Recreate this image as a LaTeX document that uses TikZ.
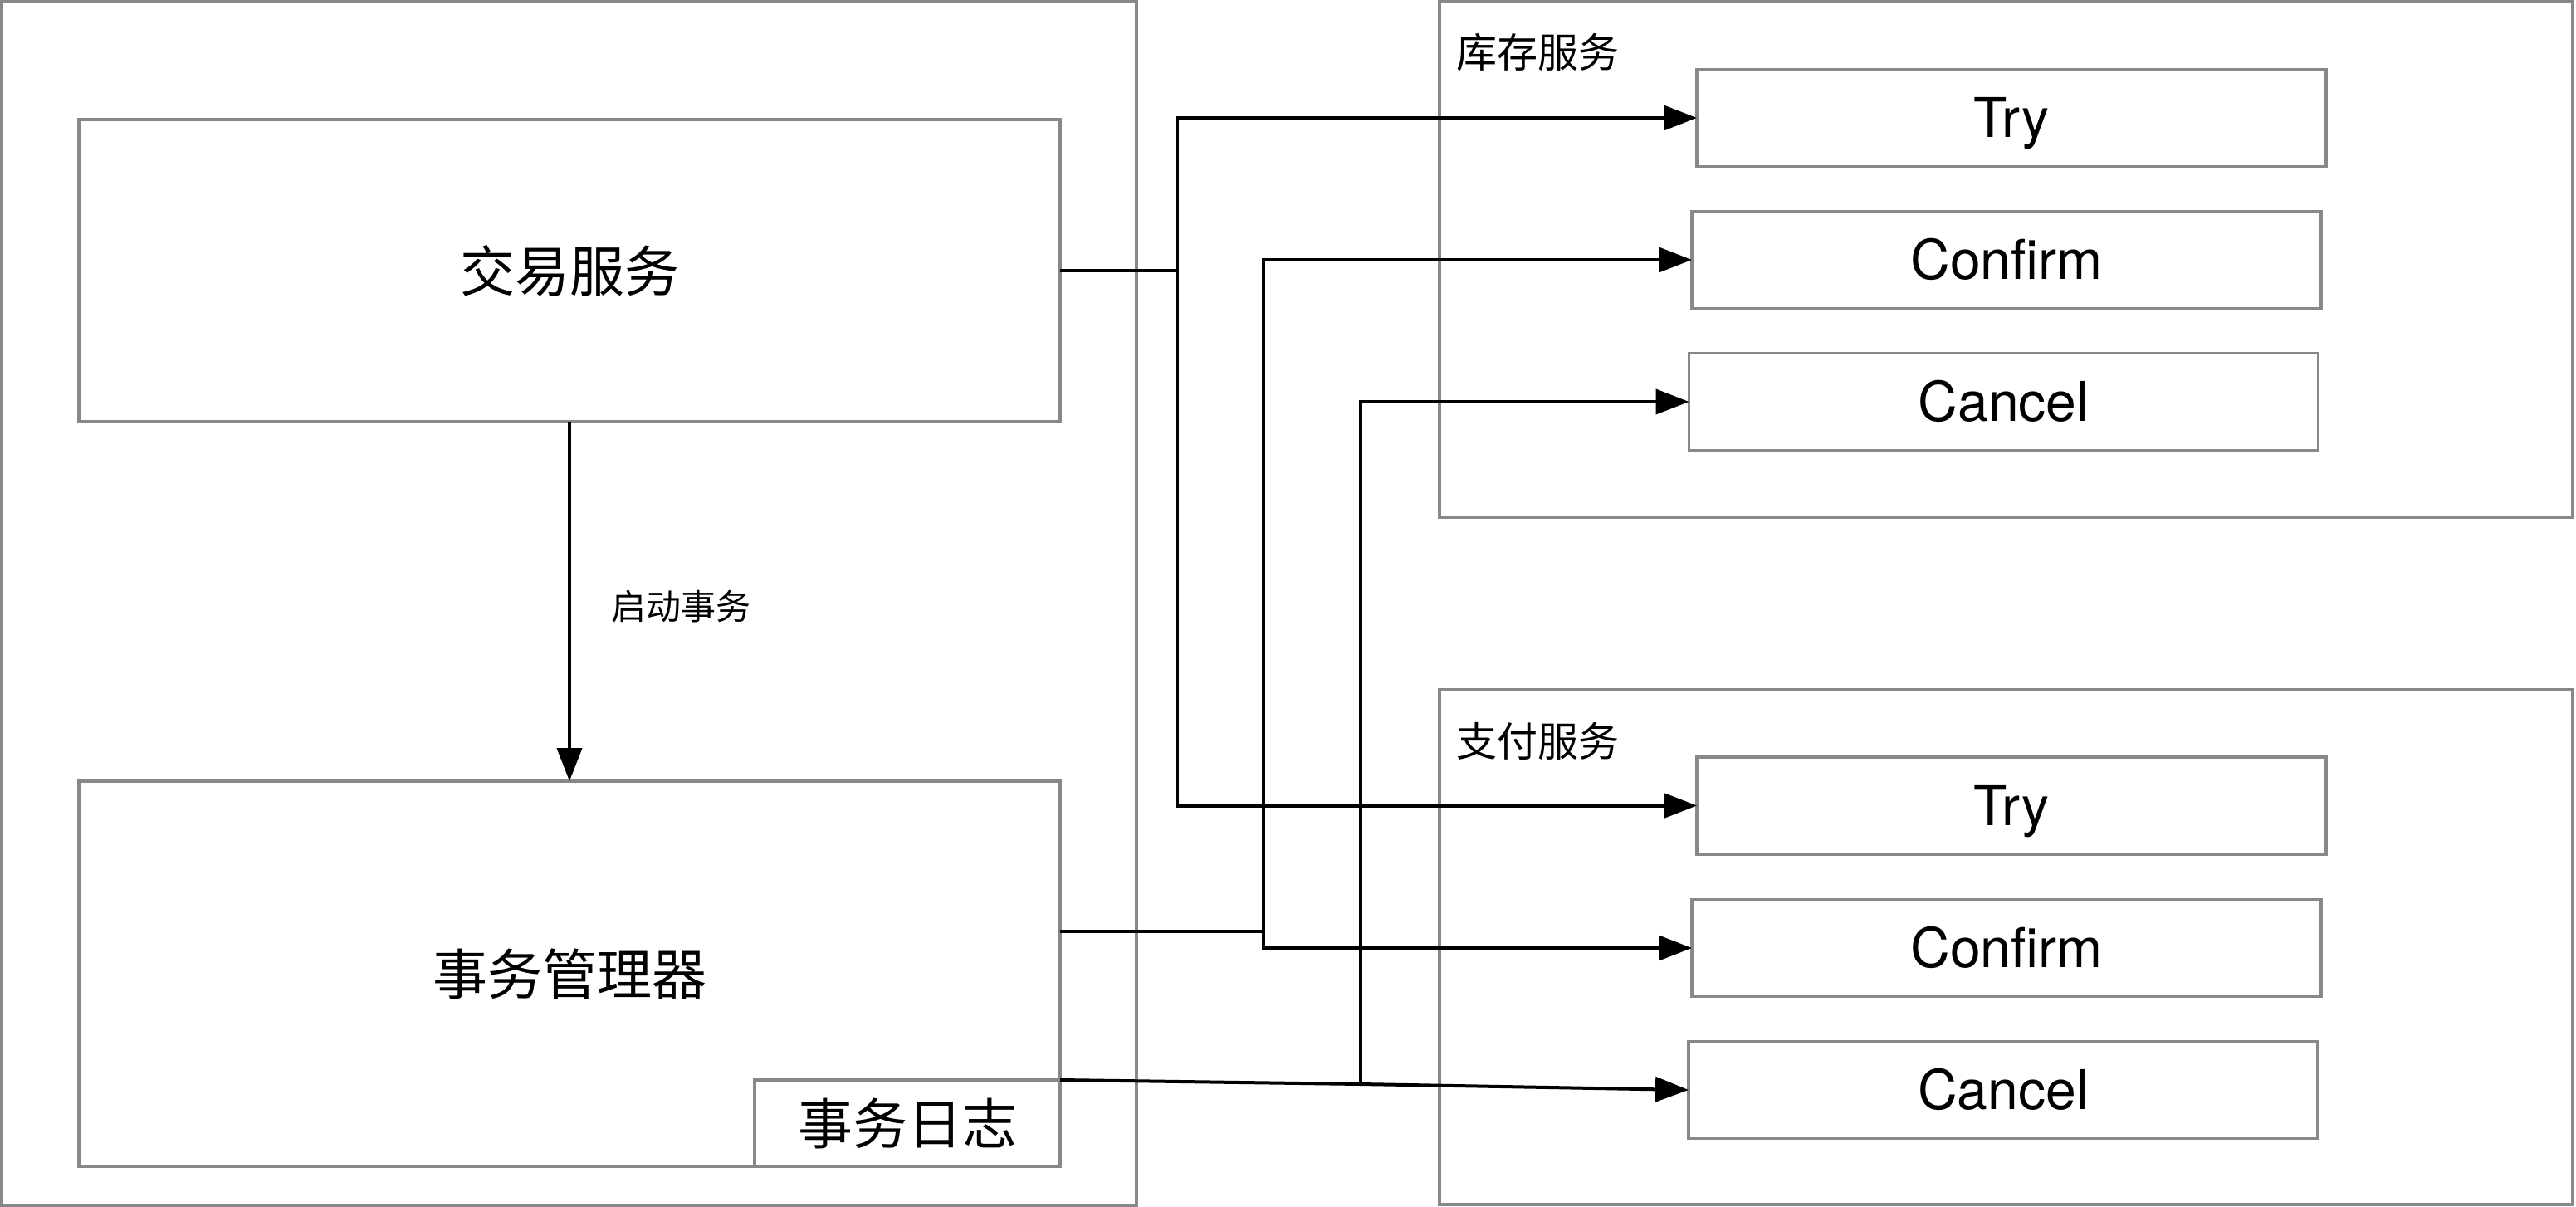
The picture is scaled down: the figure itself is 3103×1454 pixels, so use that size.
\documentclass[tikz,border=0pt]{standalone}
\usepackage{fontspec}
\setmainfont{TeX Gyre Heros}
\newfontfamily\cjk{Noto Sans CJK SC}
\usetikzlibrary{arrows.meta}
\definecolor{boxgray}{RGB}{136,136,136}
\begin{document}
\begin{tikzpicture}[x=0.25pt,y=-0.25pt,
  frame/.style={draw=boxgray, line width=0.9pt, inner sep=0pt, outer sep=0pt},
  box/.style={frame, font=\fontsize{16.5}{18}\selectfont, text height=11.85pt, text depth=0pt, minimum width=189.5pt, minimum height=29.3pt},
  cbox/.style={frame, font=\cjk\fontsize{16.5}{18}\selectfont},
  clabel/.style={font=\cjk\fontsize{12.25}{14}\selectfont, anchor=west, inner sep=0pt},
  wire/.style={line width=1pt, black},
  arr/.style={wire, -{Triangle[length=10pt,width=7.5pt]}},
  ]
\useasboundingbox (0,0) rectangle (3103,1454);
% frames
\node[frame, minimum width=341.75pt, minimum height=362.5pt] (left) at (685.5,727) {};
\node[frame, minimum width=341.25pt, minimum height=155.25pt] (kc) at (2416.5,312.5) {};
\node[frame, minimum width=341.25pt, minimum height=155pt] (zf) at (2416.5,1141) {};
\node[clabel] (kclabel) at (1754,63) {库存服务};
\node[clabel] (zflabel) at (1754,893) {支付服务};
% left boxes
\node[cbox, minimum width=295.4pt, minimum height=91pt] (jy) at (686,326) {交易服务};
\node[cbox, minimum width=295.4pt, minimum height=116pt] (mg) at (686,1173) {事务管理器};
\node[cbox, minimum width=92pt, minimum height=26pt] (log) at (1093,1353) {事务日志};
\node[font=\cjk\fontsize{10.5}{12}\selectfont, inner sep=0pt] (lbl) at (820,731) {启动事务};
% right boxes
\node[box] (try1) at (2423,142) {Try};
\node[box] (conf1) at (2417,313) {Confirm};
\node[box] (canc1) at (2413.5,484) {Cancel};
\node[box] (try2) at (2423,970.5) {Try};
\node[box] (conf2) at (2417,1142) {Confirm};
\node[box] (canc2) at (2413,1313) {Cancel};
% connectors
\draw[arr] (jy.south) -- (mg.north);
\coordinate (j1) at (1418,326);
\draw[wire] (jy.east) -- (j1);
\draw[arr] (j1) |- (try1.west);
\draw[arr] (j1) |- (try2.west);
\coordinate (m1) at (1522,1122);
\draw[wire] (mg.east |- m1) -- (m1);
\draw[arr] (m1) |- (conf1.west);
\draw[arr] (m1) |- (conf2.west);
\coordinate (c1) at (1639,1306);
\draw[wire] (log.north east) -- (c1);
\draw[arr] (c1) |- (canc1.west);
\draw[arr] (c1) -- (canc2.west);
\end{tikzpicture}
\end{document}
